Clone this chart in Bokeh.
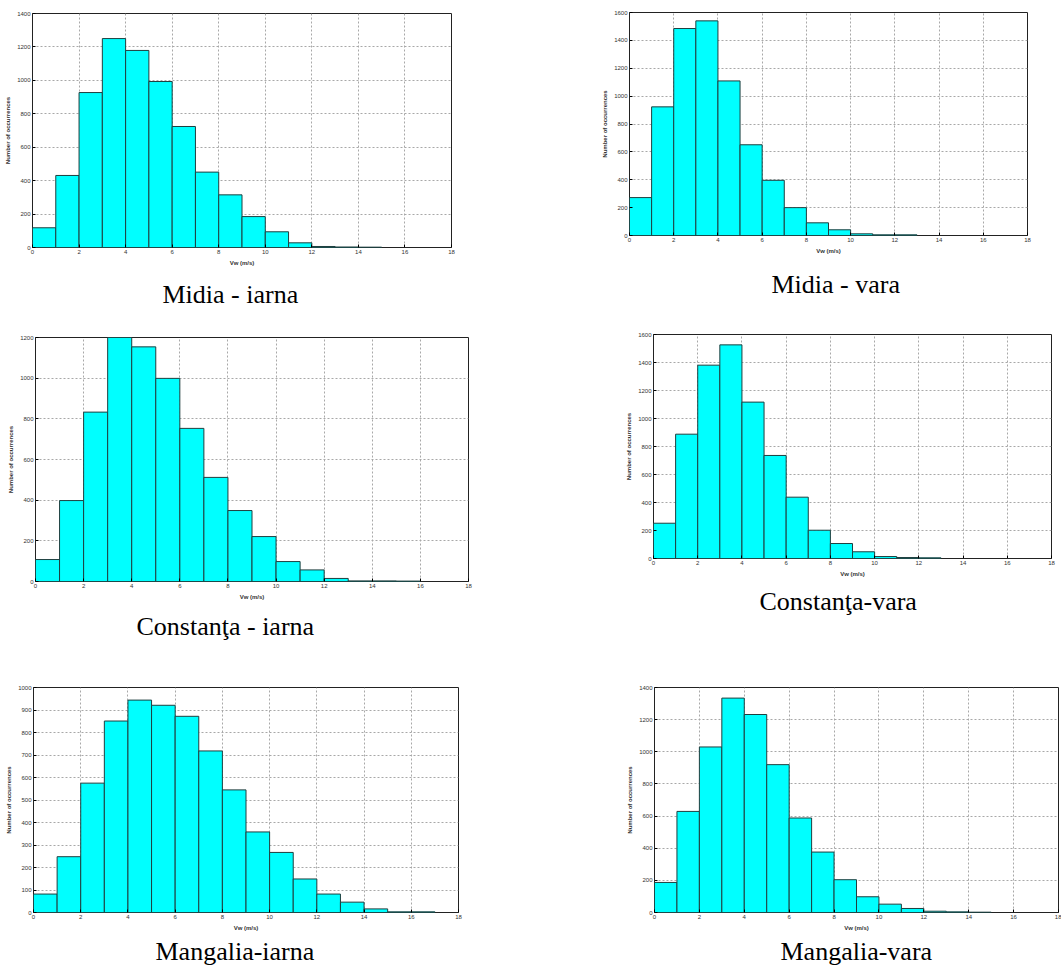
from bokeh.plotting import figure
from bokeh.layouts import column, row
from bokeh.models import Title, FixedTicker, Range1d
from bokeh.embed import file_html
from bokeh.resources import INLINE

# ---- data (counts per 1 m/s bin, bins start at 0) ----
bin_edges = [0, 1, 2, 3, 4, 5, 6, 7, 8, 9, 10, 11, 12, 13, 14, 15, 16, 17, 18]

midia_iarna = [118, 431, 927, 1250, 1179, 993, 724, 451, 315, 185, 94, 28, 6, 3, 2]
midia_vara = [272, 923, 1485, 1540, 1109, 651, 396, 200, 91, 41, 12, 5, 5]
constanta_iarna = [108, 398, 833, 1200, 1154, 999, 753, 512, 349, 221, 98, 57, 15, 3, 3, 2]
constanta_vara = [252, 888, 1381, 1526, 1117, 736, 438, 202, 107, 48, 14, 7, 5]
mangalia_iarna = [82, 248, 575, 851, 944, 921, 872, 718, 545, 358, 267, 149, 82, 46, 16, 3, 3]
mangalia_vara = [187, 629, 1030, 1334, 1232, 920, 588, 376, 204, 98, 52, 25, 8, 4, 2]

captions = ["Midia - iarna", "Midia - vara", "Constanţa - iarna",
            "Constanţa-vara", "Mangalia-iarna", "Mangalia-vara"]
y_max = [1400, 1600, 1200, 1600, 1000, 1400]
y_step = [200, 200, 200, 200, 100, 200]
x_ticks = [0, 2, 4, 6, 8, 10, 12, 14, 16, 18]

FONT = "Liberation Sans"


def panel(counts, caption, ymax, ystep, width, height, bl, br, bt, bb,
          cap_offset, cap_standoff):
    p = figure(width=width, height=height, output_backend="svg",
               toolbar_location=None, x_range=Range1d(0, 18),
               y_range=Range1d(0, ymax), frame_align=False,
               min_border_left=bl, min_border_right=br,
               min_border_top=bt, min_border_bottom=bb)
    lefts = bin_edges[:len(counts)]
    rights = bin_edges[1:len(counts) + 1]
    p.quad(left=lefts, right=rights, bottom=0, top=counts,
           fill_color="#00FFFF", line_color="#1f3f3f", line_width=1)
    p.xaxis.ticker = FixedTicker(ticks=x_ticks)
    p.yaxis.ticker = FixedTicker(ticks=list(range(0, ymax + 1, ystep)))
    for ax in (p.xaxis, p.yaxis):
        ax.major_tick_in = 3
        ax.major_tick_out = 0
        ax.minor_tick_line_color = None
        ax.axis_line_color = None
        ax.major_label_text_font = FONT
        ax.major_label_text_font_size = "6px"
        ax.major_label_text_color = "#333333"
        ax.major_label_standoff = 2
        ax.axis_label_text_font = FONT
        ax.axis_label_text_font_size = "6px"
        ax.axis_label_text_font_style = "bold"
        ax.axis_label_text_color = "#333333"
        ax.axis_label_standoff = 3
    p.xaxis.axis_label = "Vw (m/s)"
    p.yaxis.axis_label = "Number of occurrences"
    p.grid.grid_line_color = "#a8a8a8"
    p.grid.grid_line_dash = "2 2"
    p.grid.grid_line_width = 1
    p.xgrid.ticker = FixedTicker(ticks=x_ticks)
    p.outline_line_color = "#222222"
    p.outline_line_width = 1
    p.background_fill_color = "white"
    p.border_fill_color = "white"
    t = Title(text=caption, align="left", text_font="Liberation Serif",
              text_font_size="26px", text_font_style="normal",
              text_color="black", offset=cap_offset, standoff=cap_standoff)
    p.add_layout(t, "below")
    return p


p1 = panel(midia_iarna, captions[0], y_max[0], y_step[0], 560, 322, 32, 109, 13, 75, 130, 18)
p2 = panel(midia_vara, captions[1], y_max[1], y_step[1], 501, 322, 69, 34, 12, 87, 142, 22)
p3 = panel(constanta_iarna, captions[2], y_max[2], y_step[2], 560, 328, 35, 92, 15, 69, 101, 14)
p4 = panel(constanta_vara, captions[3], y_max[3], y_step[3], 501, 328, 93, 10, 12, 92, 106, 11)
p5 = panel(mangalia_iarna, captions[4], y_max[4], y_step[4], 560, 324, 33, 102, 37, 62, 122, 2)
p6 = panel(mangalia_vara, captions[5], y_max[5], y_step[5], 501, 324, 94, 3, 37, 62, 126, 2)

layout = column(row(p1, p2, spacing=0), row(p3, p4, spacing=0),
                row(p5, p6, spacing=0), spacing=0)

open("out.html", "w").write(file_html(layout, INLINE))
